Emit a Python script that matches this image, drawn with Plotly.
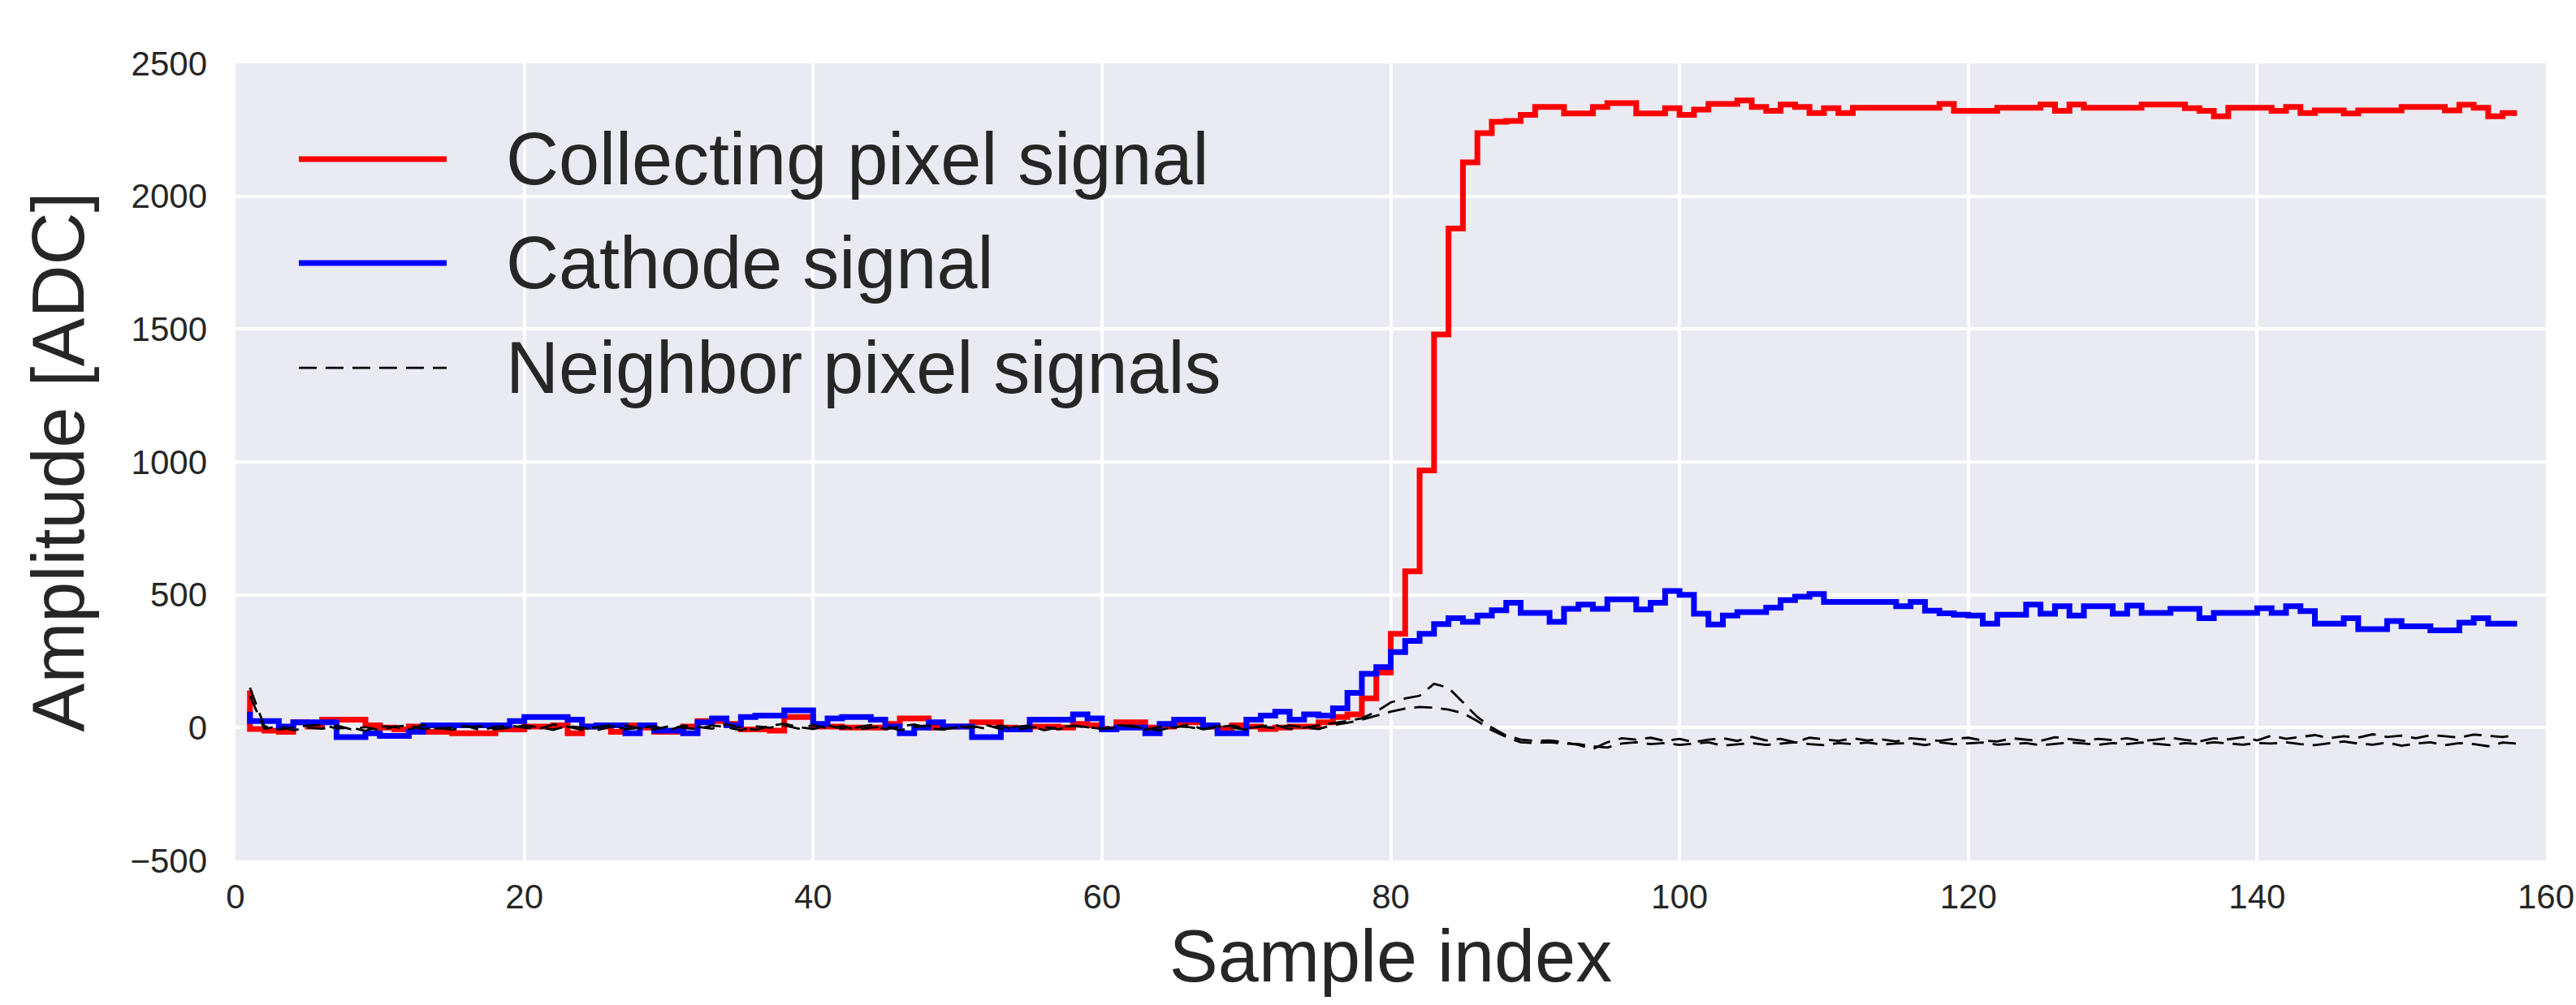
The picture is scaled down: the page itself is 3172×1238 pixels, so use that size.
import plotly.graph_objects as go

# ---------------- data ----------------
sample_index = list(range(1, 159))

collecting_pixel = [
    140, -5, -11, -16, 20, 4, 30, 30, 30, 9,
    0, -7, 4, -16, -16, -21, -21, -21, -7, -7,
    4, 4, 9, -21, 4, 4, -16, 9, 0, -16,
    -16, 4, 25, 25, 14, -7, -7, -11, 40, 40,
    4, 4, 0, 0, 0, 14, 35, 35, 0, 4,
    4, 20, 20, 0, -5, 4, 4, 0, 14, 9,
    -5, 20, 20, 0, 4, 20, 20, 4, -5, 9,
    4, -5, 0, 4, 4, 20, 40, 50, 110, 207,
    353, 588, 968, 1480, 1878, 2127, 2237, 2280, 2283, 2306,
    2336, 2336, 2311, 2311, 2336, 2350, 2350, 2311, 2311, 2331,
    2306, 2326, 2347, 2347, 2360, 2336, 2321, 2345, 2336, 2313,
    2331, 2313, 2333, 2333, 2333, 2333, 2333, 2333, 2347, 2321,
    2321, 2321, 2333, 2333, 2333, 2345, 2321, 2345, 2333, 2333,
    2333, 2333, 2345, 2345, 2345, 2331, 2321, 2301, 2333, 2333,
    2333, 2321, 2336, 2313, 2323, 2323, 2311, 2323, 2323, 2323,
    2336, 2336, 2336, 2323, 2344, 2333, 2301, 2313,
]

cathode = [
    60, 25, 25, 4, 20, 20, 20, -36, -36, -21,
    -31, -31, -16, 9, 9, 9, 9, 9, 9, 25,
    40, 40, 40, 30, 4, 9, 9, -21, 9, -11,
    -11, -21, 20, 35, 9, 40, 45, 45, 65, 65,
    14, 35, 40, 40, 30, 4, -21, 0, 20, 4,
    4, -36, -36, -7, -7, 30, 30, 30, 50, 35,
    -7, 0, 0, -21, 14, 30, 30, 9, -21, -21,
    30, 45, 60, 30, 50, 45, 73, 131, 203, 228,
    284, 326, 353, 390, 412, 398, 422, 442, 470, 432,
    432, 398, 447, 463, 447, 483, 483, 445, 470, 514,
    500, 429, 388, 422, 435, 435, 452, 480, 493, 503,
    473, 473, 473, 473, 473, 457, 473, 440, 430, 425,
    422, 391, 425, 425, 463, 429, 457, 422, 457, 457,
    429, 459, 432, 432, 447, 447, 412, 432, 432, 432,
    449, 432, 457, 439, 391, 391, 412, 371, 371, 401,
    381, 381, 366, 366, 395, 412, 391, 391,
]

neighbor_a = [
    150, 5, -8, 0, 8, 10, -3, 0, -12, 5,
    2, -6, 10, -4, 0, 6, -10, 3, 8, 0,
    -5, 12, 4, -8, 2, 10, -6, 0, 5, -10,
    8, 3, -4, 12, 0, -8, 6, 15, 2, -5,
    8, -3, 0, 10, -6, 4, 12, -2, -8, 5,
    0, 10, -5, 3, 8, -10, 2, 6, 0, -4,
    10, 5, -8, 3, 0, 12, -6, 2, 8, -3,
    5, 10, -5, 0, 8, 15, 25, 35, 60, 95,
    110, 120, 165, 150, 95, 40, 0, -30, -45, -50,
    -48, -55, -65, -80, -55, -40, -45, -38, -50, -42,
    -55, -45, -40, -50, -35, -48, -42, -55, -38, -45,
    -50, -40, -48, -44, -52, -40, -46, -50, -42, -38,
    -48, -52, -40, -45, -50, -36, -44, -50, -42, -47,
    -40, -50, -45, -38, -46, -52, -40, -44, -36, -48,
    -30, -42, -35, -28, -40, -32, -38, -25, -35, -30,
    -40, -28, -32, -38, -26, -30, -35, -28,
]

neighbor_b = [
    120, -5, 6, -10, 0, -4, 8, -6, 2, -10,
    4, 8, -5, 0, -8, 3, 5, -6, 0, 8,
    2, -8, 6, 0, -10, 4, 8, -3, -6, 5,
    0, -6, 8, 2, -10, 5, 0, 8, -4, 10,
    -2, 6, -8, 0, 5, -10, 2, 8, -5, 0,
    6, -4, 8, -8, 0, 4, -6, 8, 2, -5,
    0, 8, -4, -10, 5, 2, -6, 6, 0, -8,
    4, -2, 8, 0, -5, 10, 18, 30, 45, 60,
    72, 78, 75, 68, 55, 25, -10, -35, -55, -58,
    -55, -60, -62, -70, -75, -60, -55, -62, -58, -65,
    -60, -55, -68, -62, -58, -65, -60, -55, -62, -66,
    -58, -62, -56, -64, -60, -58, -66, -55, -62, -60,
    -56, -64, -60, -58, -66, -62, -56, -60, -65, -58,
    -62, -56, -60, -66, -58, -62, -55, -60, -64, -58,
    -60, -55, -62, -66, -58, -52, -60, -64, -56, -68,
    -60, -55, -66, -58, -62, -70, -56, -60,
]

series_names = ["Collecting pixel signal", "Cathode signal", "Neighbor pixel signals"]
series_colors = ["#FF0000", "#0000FF", "#000000"]

x_ticks = [0, 20, 40, 60, 80, 100, 120, 140, 160]
y_ticks = [-500, 0, 500, 1000, 1500, 2000, 2500]

# ---------------- styling ----------------
FONT = "Liberation Sans, Arial, Helvetica, sans-serif"
TEXT = "#262626"
BG = "#EAEAF2"
DASH = "22px,11px"
BIG = 90

fig = go.Figure()

fig.add_trace(go.Scatter(
    x=sample_index, y=collecting_pixel, mode="lines", name=series_names[0],
    line=dict(color=series_colors[0], width=7, shape="vh"), showlegend=False,
))
fig.add_trace(go.Scatter(
    x=sample_index, y=cathode, mode="lines", name=series_names[1],
    line=dict(color=series_colors[1], width=7, shape="vh"), showlegend=False,
))
for nb in (neighbor_a, neighbor_b):
    fig.add_trace(go.Scatter(
        x=sample_index, y=nb, mode="lines", name=series_names[2],
        line=dict(color=series_colors[2], width=2.8, dash=DASH), showlegend=False,
    ))

# ---------------- legend (drawn in paper coordinates) ----------------
legend_rows_y = [0.8798, 0.7495, 0.6181]
legend_widths = [7, 7, 2.8]
legend_dash = ["solid", "solid", DASH]
for name, color, yy, w, d in zip(series_names, series_colors, legend_rows_y, legend_widths, legend_dash):
    fig.add_shape(type="line", xref="paper", yref="paper",
                  x0=0.0274, x1=0.0914, y0=yy, y1=yy,
                  line=dict(color=color, width=w, dash=d))
    fig.add_annotation(text=name, xref="paper", yref="paper", x=0.1163, y=yy,
                       xanchor="left", yanchor="middle", showarrow=False,
                       font=dict(family=FONT, size=BIG, color=TEXT))

fig.update_layout(
    width=3172, height=1238,
    margin=dict(l=290, r=37, t=78, b=178, pad=0),
    paper_bgcolor="white", plot_bgcolor=BG,
    font=dict(family=FONT, color=TEXT),
    showlegend=False,
)
fig.update_xaxes(
    range=[0, 160], tickvals=x_ticks, showgrid=True, gridcolor="white", gridwidth=3.5,
    zeroline=False, showline=False, ticks="", ticklabelstandoff=16,
    tickfont=dict(family=FONT, size=42, color=TEXT),
    title=dict(text="Sample index", font=dict(family=FONT, size=BIG, color=TEXT), standoff=12),
    automargin=False,
)
fig.update_yaxes(
    range=[-500, 2500], tickvals=y_ticks, showgrid=True, gridcolor="white", gridwidth=3.5,
    zeroline=False, showline=False, ticks="", ticklabelstandoff=34,
    tickfont=dict(family=FONT, size=42, color=TEXT),
    title=dict(text="Amplitude [ADC]", font=dict(family=FONT, size=BIG, color=TEXT), standoff=26),
    automargin=False,
)

fig.write_html(
    "out.html",
    config={"displayModeBar": False},
    post_script="document.body.style.margin='0';document.body.style.overflow='hidden';",
)
